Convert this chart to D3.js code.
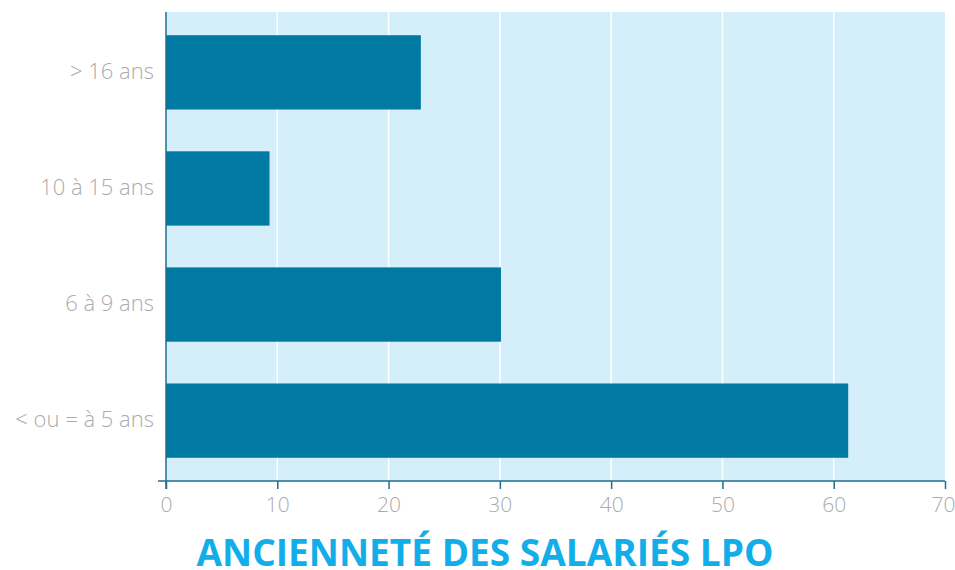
<!DOCTYPE html>
<html><head><meta charset="utf-8">
<script src="https://cdn.jsdelivr.net/npm/d3@7"></script>
<style>body{margin:0;background:#fff}svg{display:block}</style>
</head><body><svg id="c" width="955" height="570"></svg>
<script>
const categories = ["> 16 ans", "10 à 15 ans", "6 à 9 ans", "< ou = à 5 ans"];
const values = [22.9, 9.3, 30.1, 61.3];
const xTicks = [0, 10, 20, 30, 40, 50, 60, 70];
const title = "ANCIENNETÉ DES SALARIÉS LPO";

const svg = d3.select("#c");
const m = {left: 166, right: 945, top: 12, bottom: 481};
const x = d3.scaleLinear().domain([0, 70]).range([m.left, m.right]);
const y = d3.scaleBand().domain(categories).range([m.top, m.bottom]).paddingInner(0.36).paddingOuter(0.2);

svg.append("rect").attr("x", m.left).attr("y", m.top).attr("width", m.right - m.left).attr("height", m.bottom - m.top).attr("fill", "#d4eefa");
svg.append("g").selectAll("line").data(xTicks.slice(1, -1)).join("line")
  .attr("x1", d => x(d)).attr("x2", d => x(d)).attr("y1", m.top).attr("y2", m.bottom)
  .attr("stroke", "#fff").attr("stroke-width", 1.5);

svg.append("g").selectAll("rect").data(values).join("rect")
  .attr("x", x(0)).attr("y", (d, i) => y(categories[i]))
  .attr("width", d => x(d) - x(0)).attr("height", y.bandwidth())
  .attr("fill", "#0079a3");

const axisColor = "#1f6e8c";
const font = "Open Sans, sans-serif";
const xAxis = svg.append("g").attr("transform", `translate(0,${m.bottom})`)
  .call(d3.axisBottom(x).tickValues(xTicks).tickSize(8).tickSizeOuter(0).tickPadding(8));
xAxis.select(".domain").remove();
xAxis.append("line").attr("x1", m.left - 8).attr("x2", m.right).attr("stroke", axisColor).attr("stroke-width", 1.5);
xAxis.selectAll(".tick line").attr("stroke", axisColor).attr("stroke-width", 1.5);
xAxis.selectAll("text").attr("fill", "#ababab").attr("font-size", 21).attr("font-family", font).attr("font-weight", 300);
xAxis.selectAll(".tick text").filter(d => d === 70).attr("text-anchor", "end").attr("dx", 10);

const yAxis = svg.append("g").attr("transform", `translate(${m.left},0)`)
  .call(d3.axisLeft(y).tickSize(0).tickPadding(12));
yAxis.select(".domain").remove();
yAxis.append("line").attr("y1", m.top).attr("y2", m.bottom + 8).attr("stroke", axisColor).attr("stroke-width", 1.5);
yAxis.selectAll("text").attr("fill", "#ababab").attr("font-size", 22).attr("font-family", font).attr("font-weight", 300).attr("dy", "0.28em");

svg.append("text").attr("x", 485).attr("y", 566).attr("text-anchor", "middle")
  .attr("font-family", font).attr("font-weight", 700).attr("font-size", 38)
  .attr("textLength", 577).attr("lengthAdjust", "spacingAndGlyphs")
  .attr("fill", "#12aeea").text(title);
</script></body></html>
